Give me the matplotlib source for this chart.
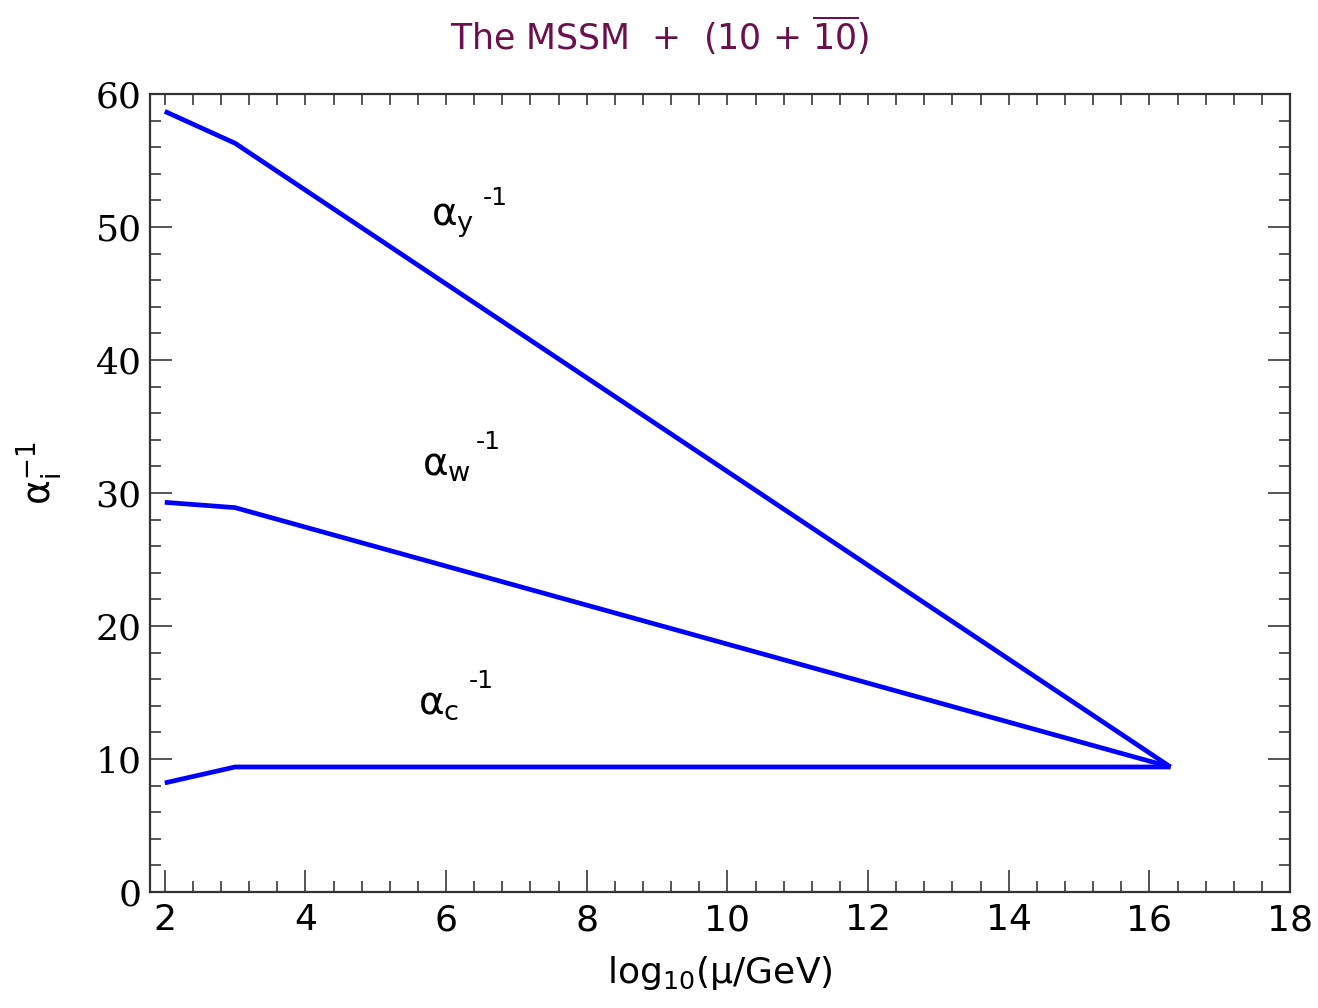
import matplotlib.pyplot as plt
from matplotlib.ticker import MultipleLocator

# running couplings
x_pts = [2.0, 3.0, 16.3]
alpha_y = [58.7, 56.3, 9.4]
alpha_w = [29.3, 28.9, 9.4]
alpha_c = [8.2, 9.4, 9.4]

labels = ['y', 'w', 'c']
label_x = [6.1, 6.0, 5.9]
label_y = [50.5, 32.1, 14.2]

fig = plt.figure(figsize=(13.18, 10.08), dpi=100)
ax = fig.add_axes([0.1138, 0.1151, 0.8650, 0.7916])

for yv in (alpha_y, alpha_w, alpha_c):
    ax.plot(x_pts, yv, color='#0000ff', lw=3.4, solid_capstyle='butt')

for lab, lx, ly in zip(labels, label_x, label_y):
    ax.text(lx, ly, r'α$_{\mathregular{%s}}$' % lab, fontsize=28,
            ha='center', va='center', family='DejaVu Sans')
    ax.text(lx + 0.6, ly + 1.7, '-1', fontsize=18, ha='center',
            va='center', family='DejaVu Sans')

ax.set_xlim(1.79, 18)
ax.set_ylim(0, 60)
ax.xaxis.set_major_locator(MultipleLocator(2))
ax.xaxis.set_minor_locator(MultipleLocator(0.4))
ax.yaxis.set_major_locator(MultipleLocator(10))
ax.yaxis.set_minor_locator(MultipleLocator(2))

for s in ax.spines.values():
    s.set_linewidth(1.6)
    s.set_color('#333333')

ax.tick_params(which='major', direction='in', length=16, width=1.4,
               color='#555555', right=True)
ax.tick_params(which='minor', direction='in', length=8, width=1.4,
               color='#555555', right=True)
ax.tick_params(axis='x', labelsize=26, pad=8)
ax.tick_params(axis='y', labelsize=26, pad=6)
for t in ax.get_xticklabels():
    t.set_family('DejaVu Sans')
for t in ax.get_yticklabels():
    t.set_family('DejaVu Serif')

top = ax.secondary_xaxis('top')
top.xaxis.set_major_locator(MultipleLocator(0.4))
top.tick_params(direction='in', length=8, width=1.4, color='#555555',
                labeltop=False)
top.spines['top'].set_visible(False)

ax.set_xlabel(r'log$_{\mathregular{10}}$(μ/GeV)', fontsize=26,
              family='DejaVu Sans', labelpad=12)
fig.text(0.03, 0.53, r'α$_{\mathregular{i}}^{\mathregular{-1}}$',
         rotation=90, fontsize=27, ha='center', va='center')

fig.text(0.5, 0.965, r'The MSSM  +  (10 + $\overline{\mathregular{10}}$)',
         fontsize=25, color='#6b0f4f', ha='center', va='center',
         family='DejaVu Sans')

fig.savefig('out.png', dpi=100)
